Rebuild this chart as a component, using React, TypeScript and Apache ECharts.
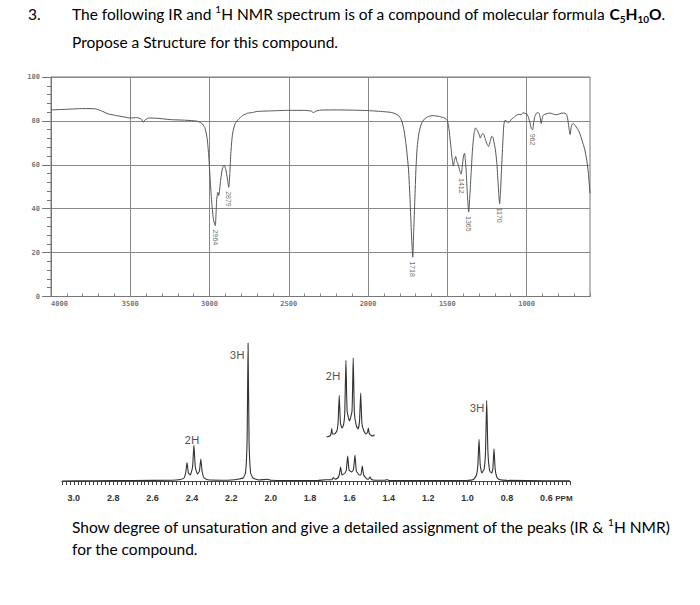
import React, { useEffect, useRef } from 'react';
import * as echarts from 'echarts';

// ---------- IR spectrum (wavenumber cm-1, % transmittance) ----------
const irWavenumber = [
  4000, 3900, 3800, 3720, 3680, 3640, 3600, 3540, 3500, 3460, 3430, 3418, 3405, 3380, 3330, 3250, 3150, 3080, 3050, 3030,
  3015, 3005, 2995, 2985, 2975, 2964, 2955, 2948, 2942, 2930, 2918, 2908, 2898, 2888, 2879, 2872, 2865, 2855, 2840, 2820,
  2790, 2760, 2730, 2700, 2600, 2500, 2400, 2360, 2345, 2330, 2300, 2200, 2100, 2000, 1900, 1850, 1810, 1790, 1775, 1760,
  1745, 1735, 1726, 1718, 1712, 1705, 1698, 1690, 1680, 1665, 1645, 1620, 1590, 1550, 1515, 1500, 1490, 1480, 1470, 1462,
  1455, 1447, 1440, 1432, 1424, 1416, 1412, 1406, 1398, 1392, 1386, 1380, 1374, 1365, 1358, 1350, 1342, 1332, 1322, 1312,
  1305, 1298, 1292, 1284, 1276, 1268, 1260, 1250, 1240, 1230, 1220, 1212, 1205, 1197, 1188, 1180, 1174, 1170, 1165, 1158,
  1150, 1143, 1135, 1125, 1115, 1105, 1095, 1085, 1070, 1050, 1035, 1022, 1010, 1000, 990, 980, 970, 962, 955, 948,
  938, 928, 920, 914, 908, 903, 896, 885, 870, 855, 835, 815, 800, 780, 765, 750, 742, 736, 730, 725,
  720, 714, 705, 695, 680, 665, 650, 635, 620, 610, 600,
];
const irTransmittance = [
  85.0, 85.3, 85.6, 85.5, 84.5, 83.2, 82.6, 81.8, 81.3, 81.5, 80.8, 79.4, 80.6, 81.3, 81.2, 80.6, 80.3, 79.9, 79.0, 77.0,
  72, 64, 52, 42, 35, 32.3, 44, 47.5, 46, 53, 58.5, 59.8, 58, 54, 49.8, 56, 66, 74, 78.5, 80.5,
  82.5, 83.5, 83.8, 84.3, 84.6, 84.8, 84.8, 84.5, 83.8, 84.4, 84.9, 85.0, 84.9, 84.7, 84.2, 83.8, 82.6, 80.5, 76.5, 69,
  58, 44, 28, 17.9, 30, 44, 58, 68, 74, 78.5, 80.8, 82, 82.4, 82, 81.2, 80.2, 76.5, 70, 63, 59.4,
  62, 63.8, 61.5, 60.3, 58, 56, 55.8, 59, 64, 65.3, 62, 56, 47, 38.5, 46, 56, 66, 74, 76.8, 75.8,
  74.8, 73.5, 72.2, 73.5, 74.3, 73.5, 71.6, 69.5, 68.4, 70.5, 73, 72.5, 70, 67, 61, 52, 45, 42.3, 47, 58,
  70, 78.5, 80.3, 79.8, 79.2, 79.8, 80.8, 81.3, 82.3, 83, 82.8, 83.8, 83.4, 83.2, 82, 79.5, 76.5, 76, 79.5, 82,
  83.5, 83.8, 83.2, 81.5, 78.8, 80.5, 82.5, 83, 83.3, 83.6, 83.2, 82.8, 83, 83.5, 83.6, 83.1, 81.5, 78.5, 75.5, 73.8,
  76.5, 78.3, 78.8, 78, 76.5, 74.5, 71, 67.5, 62, 56, 47,
];
const irPeakWavenumber = [2964, 2879, 1718, 1412, 1365, 1170, 962];
const irPeakTransmittance = [32.3, 49.8, 17.9, 55.8, 38.5, 42.3, 76];
const irPeakLabel = ['2964', '2879', '1718', '1412', '1365', '1170', '962'];
const irXTicks = [4000, 3500, 3000, 2500, 2000, 1500, 1000];

// ---------- 1H NMR spectrum (ppm, intensity) ----------
const nmrPpm = [
  3.06, 2.9, 2.7, 2.5, 2.46, 2.44, 2.432, 2.425, 2.418, 2.408, 2.397, 2.39, 2.383, 2.372, 2.362, 2.355, 2.348, 2.338, 2.32, 2.25,
  2.2, 2.16, 2.14, 2.128, 2.12, 2.115, 2.11, 2.102, 2.09, 2.06, 2.015, 2.0, 1.9, 1.76, 1.72, 1.69, 1.682, 1.674, 1.66, 1.652,
  1.645, 1.638, 1.623, 1.616, 1.609, 1.602, 1.59, 1.58, 1.572, 1.565, 1.55, 1.542, 1.535, 1.528, 1.512, 1.504, 1.496, 1.488, 1.47, 1.42,
  1.41, 1.4, 1.2, 1.0, 0.97, 0.955, 0.948, 0.942, 0.936, 0.928, 0.916, 0.909, 0.903, 0.897, 0.888, 0.878, 0.872, 0.866, 0.86, 0.852,
  0.84, 0.8, 0.6, 0.48,
];
const nmrIntensity = [
  0, 0.3, 0.5, 0.8, 1.5, 3, 8, 18.5, 8, 6, 14, 36, 14, 7, 10, 22, 9, 3, 1.2, 0.8,
  1.0, 2, 3, 8, 40, 138, 40, 8, 3, 1, 1.8, 0.7, 0.5, 0.6, 1.2, 1.2, 3.5, 1.8, 3, 6,
  14, 6, 8, 11, 25, 11, 9, 11, 26, 10, 6, 6, 15, 6, 2.2, 1.8, 4, 1.5, 0.8, 0.7,
  1.5, 0.6, 0.5, 0.6, 1.5, 6, 16, 41.7, 16, 8, 12, 30, 80.7, 30, 10, 8, 12, 32.3, 12, 4,
  1.5, 0.6, 0.3, 0.2,
];
// expanded (inset) trace of the 1.6 ppm multiplet
const insetPpm = [
  1.716, 1.7, 1.694, 1.69, 1.686, 1.676, 1.664, 1.658, 1.652, 1.646, 1.638, 1.63, 1.624, 1.618, 1.612, 1.6, 1.587, 1.581, 1.575, 1.565,
  1.556, 1.549, 1.543, 1.537, 1.527, 1.516, 1.508, 1.504, 1.5, 1.49, 1.478, 1.474,
];
const insetIntensity = [
  44, 45, 47, 52.5, 47, 47, 50, 58, 85.7, 58, 53, 56, 68, 120.7, 70, 60, 70, 123, 68, 55,
  52, 60, 88, 58, 50, 47, 49, 53, 48, 45.5, 45, 46.5,
];
const nmrLabelPpm = [2.17, 2.4, 1.684, 0.952];
const nmrLabelHeight = [127, 42, 106, 74];
const nmrLabelText = ['3H', '2H', '2H', '3H'];
const nmrXTicks = [3.0, 2.8, 2.6, 2.4, 2.2, 2.0, 1.8, 1.6, 1.4, 1.2, 1.0, 0.8, 0.6];

const TXT = 'Lato, "Open Sans", sans-serif';
const DOT = '"DejaVu Sans Mono", monospace';
const FS = 15.5;

function buildOption(): any {
  const irLine = irWavenumber.map((w, i) => [w, irTransmittance[i]]);
  const irPeaks = irPeakWavenumber.map((w, i) => [w, irPeakTransmittance[i], irPeakLabel[i]]);
  const nmrLine = nmrPpm.map((p, i) => [p, nmrIntensity[i]]);
  const insetLine = insetPpm.map((p, i) => [p, insetIntensity[i]]);
  const nmrLabels = nmrLabelPpm.map((p, i) => [p, nmrLabelHeight[i], nmrLabelText[i]]);

  const base = { fontFamily: TXT, fontSize: FS, color: '#000', lineHeight: 20 };
  const sup = { fontFamily: TXT, fontSize: 10, color: '#000', lineHeight: 14, verticalAlign: 'top' };
  const bold = { fontFamily: TXT, fontSize: FS, color: '#000', lineHeight: 20, fontWeight: 'bold' };
  const bsub = { fontFamily: TXT, fontSize: 10, color: '#000', lineHeight: 14, fontWeight: 'bold', verticalAlign: 'bottom' };

  return {
    animation: false,
    backgroundColor: '#ffffff',
    grid: [
      { left: 51, top: 77, width: 539, height: 219.5, show: true, borderColor: '#777', borderWidth: 1, backgroundColor: 'transparent' },
      { left: 62, top: 331, width: 508, height: 157.5 },
    ],
    xAxis: [
      {
        type: 'value', gridIndex: 0, min: 600, max: 4000, inverse: true,
        axisLine: { show: true, lineStyle: { color: '#777', width: 1 } },
        axisTick: { show: false, customValues: irXTicks },
        axisLabel: {
          customValues: irXTicks, alignMinLabel: 'left', margin: 4,
          formatter: (v: number) => String(v),
          fontFamily: DOT, fontSize: 7, fontWeight: 'bold', color: '#777',
        },
        splitLine: { show: true, lineStyle: { color: '#888', width: 1 } },
      },
      {
        type: 'value', gridIndex: 0, min: 600, max: 4000, inverse: true, interval: 100,
        position: 'bottom', offset: 0,
        axisLine: { show: false },
        axisTick: { show: true, inside: true, length: 3, lineStyle: { color: '#888' } },
        axisLabel: { show: false },
        splitLine: { show: false },
      },
      {
        type: 'value', gridIndex: 1, min: 0.48, max: 3.06, inverse: true, interval: 0.02,
        axisLine: { show: true, lineStyle: { color: '#444', width: 1 } },
        axisTick: { show: true, inside: false, length: 4, lineStyle: { color: '#444', width: 1 } },
        axisLabel: {
          customValues: nmrXTicks, margin: 5,
          fontFamily: '"Liberation Sans", Arial, sans-serif', fontSize: 9, fontWeight: 'bold', color: '#333',
          formatter: (v: number) => (Math.abs(v - 0.6) < 1e-6 ? '{pad|}{v|0.6}{u|PPM}' : v.toFixed(1)),
          rich: {
            pad: { width: 20 },
            v: { fontFamily: '"Liberation Sans", Arial, sans-serif', fontSize: 9, fontWeight: 'bold', color: '#333' },
            u: { width: 20, align: 'right', fontFamily: '"Liberation Sans", Arial, sans-serif', fontSize: 8, color: '#333' },
          },
        },
        splitLine: { show: false },
      },
    ],
    yAxis: [
      {
        type: 'value', gridIndex: 0, min: 0, max: 100, interval: 20,
        axisLine: { show: true, lineStyle: { color: '#777', width: 1 } },
        axisTick: { show: true, inside: false, length: 9, lineStyle: { color: '#777' } },
        minorTick: { show: true, splitNumber: 5, length: 4, lineStyle: { color: '#777' } },
        axisLabel: { margin: 11, fontFamily: DOT, fontSize: 7, fontWeight: 'bold', color: '#777' },
        splitLine: { show: true, lineStyle: { color: '#888', width: 1 } },
      },
      { type: 'value', gridIndex: 1, min: -7.5, max: 150, show: false },
    ],
    series: [
      {
        type: 'line', xAxisIndex: 0, yAxisIndex: 0, data: irLine, showSymbol: false, smooth: 0.2,
        lineStyle: { color: '#555', width: 1 }, silent: true, z: 3,
      },
      {
        type: 'scatter', xAxisIndex: 0, yAxisIndex: 0, data: irPeaks, symbolSize: 0, silent: true, z: 4,
        label: {
          show: true, formatter: (p: any) => p.value[2], position: [0, 4], rotate: -90,
          align: 'left', verticalAlign: 'middle', fontFamily: '"Liberation Sans", Arial, sans-serif',
          fontSize: 7, color: '#444',
        },
      },
      {
        type: 'line', xAxisIndex: 2, yAxisIndex: 1, data: nmrLine, showSymbol: false, smooth: 0.15,
        lineStyle: { color: '#333', width: 1.1 }, silent: true,
      },
      {
        type: 'line', xAxisIndex: 2, yAxisIndex: 1, data: insetLine, showSymbol: false, smooth: 0.15,
        lineStyle: { color: '#333', width: 1.1 }, silent: true,
      },
      {
        type: 'scatter', xAxisIndex: 2, yAxisIndex: 1, data: nmrLabels, symbolSize: 0, silent: true,
        label: {
          show: true, formatter: (p: any) => p.value[2], position: 'inside',
          fontFamily: TXT, fontSize: 11, color: '#222',
        },
      },
    ],
    graphic: [
      { type: 'text', x: 28, y: 14, style: { text: '3.', fontFamily: TXT, fontSize: FS, fill: '#000', verticalAlign: 'middle' } },
      {
        type: 'text', x: 72, y: 14,
        style: {
          text: '{n|The following IR and }{s|1}{n|H NMR spectrum is of a compound of molecular formula }{b|C}{bs|5}{b|H}{bs|10}{b|O}{n|.}',
          verticalAlign: 'middle',
          rich: { n: base, s: sup, b: bold, bs: bsub },
        },
      },
      { type: 'text', x: 72, y: 42, style: { text: 'Propose a Structure for this compound.', fontFamily: TXT, fontSize: FS, fill: '#000', verticalAlign: 'middle' } },
      {
        type: 'text', x: 72, y: 527,
        style: {
          text: '{n|Show degree of unsaturation and give a detailed assignment of the peaks (IR & }{s|1}{n|H NMR)}',
          verticalAlign: 'middle',
          rich: { n: base, s: sup },
        },
      },
      { type: 'text', x: 72, y: 549, style: { text: 'for the compound.', fontFamily: TXT, fontSize: FS, fill: '#000', verticalAlign: 'middle' } },
    ],
  };
}

export default function App() {
  const ref = useRef<HTMLDivElement>(null);
  useEffect(() => {
    if (!ref.current) return;
    const chart = echarts.init(ref.current, null, { renderer: 'svg' });
    chart.setOption(buildOption());
    return () => chart.dispose();
  }, []);
  return (
    <div
      ref={ref}
      style={{ position: 'fixed', left: 0, top: 0, width: 700, height: 605, background: '#fff' }}
    />
  );
}
